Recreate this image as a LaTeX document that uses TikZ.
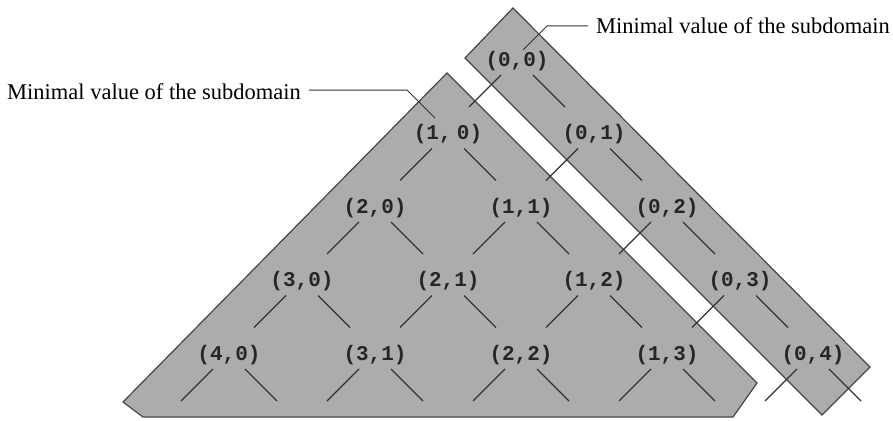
\documentclass[tikz,border=0pt]{standalone}
\usepackage{fontspec}
\setmainfont{Liberation Serif}
\newfontfamily\cellfont{Liberation Mono}
\definecolor{regiongray}{RGB}{172,172,172}
\definecolor{edgegray}{RGB}{70,70,70}
\begin{document}
\begin{tikzpicture}[x=1pt,y=-1pt,
  region/.style={fill=regiongray, draw=edgegray, line width=1.2pt, line join=miter},
  cell/.style={font=\cellfont\bfseries\fontsize{21}{21}\selectfont, inner sep=0pt, text=black!85},
  stub/.style={line width=1.3pt, draw=black!80},
  lbl/.style={font=\fontsize{22.5}{22.5}\selectfont, inner sep=0pt},
  leader/.style={line width=1pt, draw=black!80}]
\useasboundingbox (0,0) rectangle (893,420);
\fill[white] (0,0) rectangle (893,420);
% regions
\draw[region] (447,73) -- (757,383) -- (733,417) -- (143,417) -- (123,402) -- cycle;
\draw[region] (513,8) -- (870,367) -- (822,415) -- (465,58) -- cycle;
% cells
\foreach \r/\c in {0/1,2/0,1/1,0/2,3/0,2/1,1/2,0/3,4/0,3/1,2/2,1/3,0/4}{
  \node[cell] (n\r\c) at ({521+73*(\c-\r)},{61+73.5*(\r+\c)}) {(\r,\c)};
}
\node[cell] (n00) at (517,61) {(0,0)};
\node[cell] (n10) at (448,134.5) {\spaceskip=0.25em (1, 0)};
% stubs
\foreach \r/\c in {0/0,1/0,0/1,2/0,1/1,0/2,3/0,2/1,1/2,0/3,4/0,3/1,2/2,1/3,0/4}{
  \draw[stub] ([shift={(-16,14)}]n\r\c.center) -- ++(-32,32);
  \draw[stub] ([shift={(16,14)}]n\r\c.center) -- ++(32,32);
}
% labels
\node[lbl, anchor=base west] (lblL) at (7,99) {Minimal value of the subdomain};
\node[lbl, anchor=base west] (lblR) at (596,34) {Minimal value of the subdomain};
\coordinate (kL) at (407,90);
\coordinate (tL) at (435,118);
\coordinate (kR) at (547,26);
\coordinate (tR) at (523,50);
\draw[leader] (lblL.east |- kL) ++(8,0) -- (kL) -- (tL);
\draw[leader] (lblR.west |- kR) ++(-8,0) -- (kR) -- (tR);
\end{tikzpicture}
\end{document}
